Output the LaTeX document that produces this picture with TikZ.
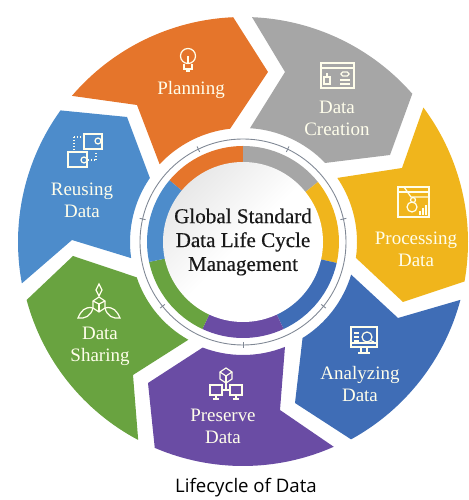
\documentclass[tikz,border=0pt]{standalone}
\usepackage{fontspec}
\setmainfont{Liberation Serif}
\newfontfamily\captionfont{Open Sans}
\newfontfamily\hubfont[FakeBold=.4]{Liberation Serif}
\definecolor{planorange}{HTML}{E5752B}
\definecolor{creategray}{HTML}{A6A6A6}
\definecolor{procyellow}{HTML}{F0B51C}
\definecolor{analyzeblue}{HTML}{3F6DB6}
\definecolor{preservepurple}{HTML}{6A4CA4}
\definecolor{sharegreen}{HTML}{69A340}
\definecolor{reuseblue}{HTML}{4D8CCB}
\definecolor{ringgray}{HTML}{7F8794}
\tikzset{
  phase/.style={text=white!92!yellow,font=\fontsize{10.8}{12.6}\selectfont,align=center,inner sep=0pt},
  icon/.style={draw=white!92!yellow,line width=.7pt},
  ringtick/.style={draw=ringgray,line width=.5pt}
}

\begin{document}
\begin{tikzpicture}[scale=.02]
  \useasboundingbox (-243,-258) rectangle (225,242);

  \fill[planorange] (139.5:225) arc[start angle=139.5,end angle=92.5,radius=225] -- (25,170) -- (96.5:114) arc[start angle=96.5,end angle=137,radius=114] -- (-106,137) -- cycle;
  \fill[creategray] (87.7:225) arc[start angle=87.7,end angle=41.2,radius=225] -- (147,87) -- (43.9:114) arc[start angle=43.9,end angle=86.5,radius=114] -- (42,170) -- cycle;
  \fill[procyellow] (36.7:225) arc[start angle=36.7,end angle=-10.1,radius=225] -- (160,-60) -- (-8:114) arc[start angle=-8,end angle=34.2,radius=114] -- (159,74) -- cycle;
  \fill[analyzeblue] (-14.9:225) arc[start angle=-14.9,end angle=-61.3,radius=225] -- (52,-161) -- (-58.2:113) arc[start angle=-58.2,end angle=-16.8,radius=113] -- (155,-76) -- cycle;
  \fill[preservepurple] (-66.1:224) arc[start angle=-66.1,end angle=-113.2,radius=224] -- (-95,-141) -- (-110.9:113) arc[start angle=-110.9,end angle=-68.2,radius=113] -- (37,-168) -- cycle;
  \fill[sharegreen] (242.1:224) arc[start angle=242.1,end angle=195,radius=224] -- (-170,-14) -- (198.4:112) arc[start angle=198.4,end angle=240.8,radius=112] -- (-110,-133) -- cycle;
  \fill[reuseblue] (190.6:225) arc[start angle=190.6,end angle=144.2,radius=225] -- (-116,125) -- (145.5:113) arc[start angle=145.5,end angle=188.2,radius=113] -- (-171,2) -- cycle;

  \fill[planorange] (0,0) -- (90:96) arc[start angle=90,end angle=140,radius=96] -- cycle;
  \fill[creategray] (0,0) -- (38.7:96) arc[start angle=38.7,end angle=90,radius=96] -- cycle;
  \fill[procyellow] (0,0) -- (-12.6:96) arc[start angle=-12.6,end angle=38.7,radius=96] -- cycle;
  \fill[analyzeblue] (0,0) -- (-65:96) arc[start angle=-65,end angle=-12.6,radius=96] -- cycle;
  \fill[preservepurple] (0,0) -- (-115:96) arc[start angle=-115,end angle=-65,radius=96] -- cycle;
  \fill[sharegreen] (0,0) -- (192:96) arc[start angle=192,end angle=245,radius=96] -- cycle;
  \fill[reuseblue] (0,0) -- (140:96) arc[start angle=140,end angle=192,radius=96] -- cycle;

  \draw[ringgray,line width=.5pt] (0,0) circle (103);
  \draw[ringtick] (-90:100) -- (-90:106);
  \draw[ringtick] (-38.6:100) -- (-38.6:106);
  \draw[ringtick] (12.9:100) -- (12.9:106);
  \draw[ringtick] (64.3:100) -- (64.3:106);
  \draw[ringtick] (115.7:100) -- (115.7:106);
  \draw[ringtick] (167.1:100) -- (167.1:106);
  \draw[ringtick] (218.6:100) -- (218.6:106);

  \shade[top color=black!9,bottom color=white,middle color=white,shading angle=45] (0,0) circle (80);
  \node[align=center,inner sep=0pt,text=black!90,font=\hubfont\fontsize{12}{13.6}\selectfont] (hub) at (0,0) {Global Standard\\Data Life Cycle\\Management};

  \node[phase] (planning) at (-52,152) {Planning};
  \node[phase] (creation) at (94,124) {Data\\Creation};
  \node[phase] (processing) at (173,-7) {Processing\\Data};
  \node[phase] (analyzing) at (117,-142) {Analyzing\\Data};
  \node[phase] (preserve) at (-20,-184) {Preserve\\Data};
  \node[phase] (sharing) at (-143,-104) {Data\\Sharing};
  \node[phase] (reusing) at (-161,42) {Reusing\\Data};
  \node[font=\captionfont\fontsize{10.6}{12}\selectfont,inner sep=0pt] (title) at (3,-246) {Lifecycle of Data};

  \draw[icon] (-55,186) circle (7.5);
  \draw[icon] (-59,178) -- (-59,173) -- (-51,173) -- (-51,178);
  \draw[icon] (-57,171) -- (-53,171);
  \draw[icon] (-55,178) -- (-55,186);

  \draw[icon] (78,154) rectangle (111,179);
  \draw[icon] (78,174) -- (111,174);
  \draw[icon] (81,158) rectangle (87,165);
  \draw[icon] (84,165) -- (84,169);
  \draw[icon,rounded corners=1pt] (98,166) rectangle (106,170);
  \draw[icon] (97,162) -- (107,162);
  \draw[icon] (97,158) -- (107,158);

  \draw[icon] (155,25) rectangle (186,55);
  \draw[icon] (155,50) -- (186,50);
  \draw[icon] (161,55) -- (168,45) -- (186,45);
  \draw[icon] (169,35) circle (5);
  \draw[icon] (170,42) circle (2.5);
  \draw[icon] (177,27) -- (177,31);
  \draw[icon] (180,27) -- (180,34);
  \draw[icon] (183,27) -- (183,37);

  \draw[icon] (108,-105) rectangle (134,-85);
  \draw[icon] (108,-101) -- (134,-101);
  \draw[icon] (118,-105) -- (118,-110);
  \draw[icon] (124,-105) -- (124,-110);
  \draw[icon] (115,-111) -- (127,-111);
  \draw[icon] (124,-95) circle (5);
  \draw[icon] (127.5,-98.5) -- (131,-100);
  \draw[icon] (111,-91) -- (116,-91);
  \draw[icon] (111,-95) -- (116,-95);
  \draw[icon] (111,-99) -- (116,-99);

  \draw[icon] (-17,-126) -- (-11,-130) -- (-11,-137) -- (-17,-141) -- (-23,-137) -- (-23,-130) -- cycle;
  \draw[icon] (-23,-130) -- (-17,-134) -- (-11,-130);
  \draw[icon] (-17,-134) -- (-17,-141);
  \draw[icon] (-33,-153) rectangle (-21,-143);
  \draw[icon] (-13,-153) rectangle (-1,-143);
  \draw[icon] (-21,-148) -- (-13,-148);
  \draw[icon] (-17,-141) -- (-17,-148);
  \draw[icon] (-30,-157) -- (-24,-157);
  \draw[icon] (-10,-157) -- (-4,-157);
  \draw[icon] (-27,-153) -- (-27,-157);
  \draw[icon] (-7,-153) -- (-7,-157);

  \draw[icon] (-144,-42) -- (-141,-48) -- (-144,-54) -- (-147,-48) -- cycle;
  \draw[icon] (-144,-55) -- (-138,-59) -- (-138,-66) -- (-144,-70) -- (-150,-66) -- (-150,-59) -- cycle;
  \draw[icon] (-150,-66) .. controls (-158,-64) and (-162,-69) .. (-165,-76) .. controls (-158,-77) and (-152,-74) .. (-150,-66);
  \draw[icon] (-138,-66) .. controls (-130,-64) and (-126,-69) .. (-123,-76) .. controls (-130,-77) and (-136,-74) .. (-138,-66);
  \draw[icon] (-144,-62) -- (-144,-70);
  \draw[icon] (-150,-59) -- (-144,-62) -- (-138,-59);

  \draw[icon] (-159,93) rectangle (-141,108);
  \draw[icon,fill=reuseblue] (-145,101) circle (3);
  \draw[icon,densely dotted] (-169,105) -- (-159,105);
  \draw[icon,densely dotted] (-169,105) -- (-169,93);
  \draw[icon] (-175,75) rectangle (-156,90);
  \draw[icon,fill=reuseblue] (-159,82) circle (3);
  \draw[icon,densely dotted] (-155,82) -- (-147,82);
  \draw[icon,densely dotted] (-147,82) -- (-147,90);
\end{tikzpicture}
\end{document}
